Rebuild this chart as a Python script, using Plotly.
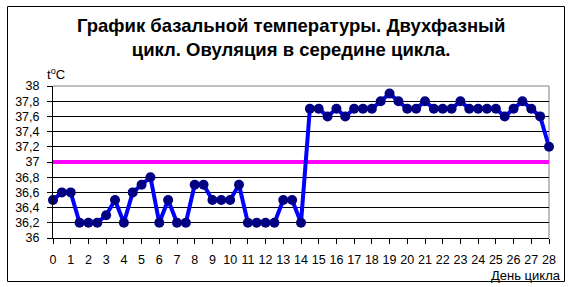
import plotly.graph_objects as go

days = [i * 0.5 for i in range(57)]
temps = [36.5, 36.6, 36.6, 36.2, 36.2, 36.2, 36.3, 36.5, 36.2, 36.6,
         36.7, 36.8, 36.2, 36.5, 36.2, 36.2, 36.7, 36.7, 36.5, 36.5,
         36.5, 36.7, 36.2, 36.2, 36.2, 36.2, 36.5, 36.5, 36.2, 37.7,
         37.7, 37.6, 37.7, 37.6, 37.7, 37.7, 37.7, 37.8, 37.9, 37.8,
         37.7, 37.7, 37.8, 37.7, 37.7, 37.7, 37.8, 37.7, 37.7, 37.7,
         37.7, 37.6, 37.7, 37.8, 37.7, 37.6, 37.2]
coverline = 37.0
x_ticks = list(range(0, 29))
y_ticks = [36 + 0.2 * i for i in range(11)]
y_labels = ["36", "36,2", "36,4", "36,6", "36,8", "37", "37,2", "37,4", "37,6", "37,8", "38"]

title = "График базальной температуры. Двухфазный<br>цикл. Овуляция в середине цикла."
font = "Liberation Sans, Arial, sans-serif"

fig = go.Figure()
fig.add_trace(go.Scatter(x=[0, 28], y=[coverline, coverline], mode="lines",
                         line=dict(color="#FF00FF", width=4), cliponaxis=False,
                         hoverinfo="skip", showlegend=False))
fig.add_trace(go.Scatter(x=days, y=temps, mode="lines+markers",
                         line=dict(color="#0000FF", width=4),
                         marker=dict(color="#000080", size=10),
                         cliponaxis=False, showlegend=False))

fig.update_layout(
    width=572, height=287,
    margin=dict(l=53, r=23, t=86, b=49),
    paper_bgcolor="white", plot_bgcolor="white",
    font=dict(family=font, size=12, color="black"),
    title=dict(text=title, x=0.509, xanchor="center", y=0.888, yanchor="middle",
               font=dict(family=font, size=18.5, color="black", weight="bold")),
    xaxis=dict(range=[0, 28], tickvals=x_ticks, ticktext=[str(t) for t in x_ticks],
               showgrid=False, zeroline=False, showline=True, linecolor="black",
               linewidth=1, ticks="outside", ticklen=5, tickcolor="black",
               tickfont=dict(size=12.5), ticklabelstandoff=5, mirror=False),
    yaxis=dict(range=[36, 38], tickvals=y_ticks, ticktext=y_labels,
               showgrid=True, gridcolor="black", gridwidth=1, zeroline=False,
               showline=True, linecolor="black", linewidth=1, ticks="outside",
               ticklen=5, tickcolor="black", tickfont=dict(size=12.5),
               ticklabelstandoff=5),
    shapes=[
        dict(type="line", xref="paper", yref="paper", x0=0, x1=1, y0=1, y1=1,
             line=dict(color="#808080", width=1), layer="below"),
        dict(type="line", xref="paper", yref="paper", x0=1, x1=1, y0=0, y1=1,
             line=dict(color="#808080", width=1), layer="below"),
        dict(type="rect", xref="paper", yref="paper",
             x0=(7.5 - 53) / 496, x1=(564.5 - 53) / 496,
             y0=(238 - 281.5) / 152, y1=(238 - 6.5) / 152,
             line=dict(color="black", width=1)),
    ],
    annotations=[
        dict(text="t<sup>o</sup>C", xref="paper", yref="paper",
             x=(45 - 53) / 496, y=(238 - 74) / 152, xanchor="left", yanchor="middle",
             showarrow=False, font=dict(size=13)),
        dict(text="День цикла", xref="paper", yref="paper",
             x=(562 - 53) / 496, y=(238 - 275) / 152, xanchor="right", yanchor="middle",
             showarrow=False, font=dict(size=13), borderpad=0),
    ],
)

fig.write_html("out.html")
